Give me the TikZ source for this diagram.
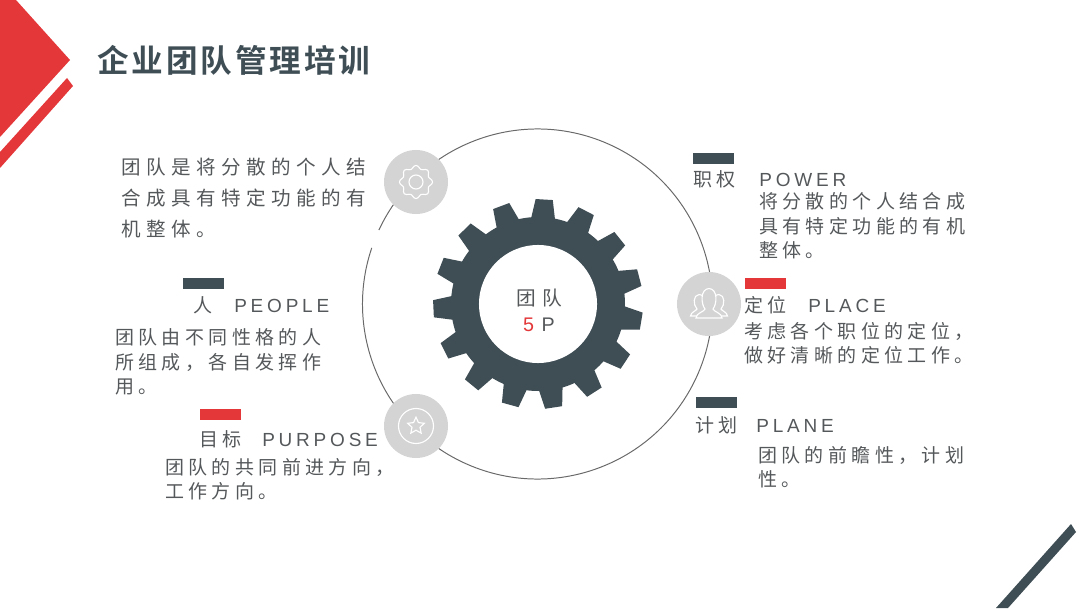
\documentclass[tikz,border=0pt]{standalone}
\usepackage{fontspec}
\usepackage{xcolor}
\usepackage{tikz}
\usetikzlibrary{calc,shapes.geometric}
\setmainfont[LetterSpace=23]{Noto Sans CJK SC}
\newfontfamily\widecjk[LetterSpace=28]{Noto Sans CJK SC}
\newfontfamily\centercjk[LetterSpace=33]{Noto Sans CJK SC}
\newfontfamily\titlecjk[LetterSpace=9,BoldFont={Noto Sans CJK SC Bold}]{Noto Sans CJK SC}
\newfontfamily\latinhead[LetterSpace=20]{Liberation Sans}
\newfontfamily\latinmid[LetterSpace=10]{Liberation Sans}
\definecolor{softslate}{RGB}{63,78,85}
\definecolor{softred}{RGB}{227,55,57}
\definecolor{softgrey}{RGB}{212,212,212}
\definecolor{softtext}{RGB}{85,88,90}
\definecolor{softring}{RGB}{105,105,105}
\newcommand{\headtext}[3]{\makebox[#1][l]{#2}{\latinhead #3}}
\tikzset{
	titletext/.style={anchor=west, inner sep=0pt, text=softslate, font=\fontsize{22.5pt}{26pt}\selectfont\titlecjk\bfseries},
	widetext/.style={anchor=west, inner sep=0pt, align=left, text=softtext, font=\fontsize{13.9pt}{22pt}\selectfont\widecjk},
	bodytext/.style={anchor=west, inner sep=0pt, align=left, text=softtext, font=\fontsize{13.5pt}{17.3pt}\selectfont},
	tagbar/.style={anchor=north west, inner sep=0pt, minimum width=1.025cm, minimum height=0.28cm},
	iconball/.style={circle, fill=softgrey, inner sep=0pt, minimum size=1.6cm},
	iconline/.style={draw=white, line width=0.8pt}
}
\begin{document}
\begin{tikzpicture}[x=0.025cm, y=0.025cm]
	\useasboundingbox (0,0) rectangle (1080,608);
	% corner shapes
	\fill[softred] (16,608) -- (70,548) -- (0,471) -- (0,608) -- cycle;
	\fill[softred] (67,530) -- (73,522) -- (0,440) -- (0,456) -- cycle;
	\fill[softslate] (1071,84) -- (1076,76) -- (1008,0) -- (996,0) -- cycle;
	\node[titletext] (title) at (97,548) {企业团队管理培训};
	% ring with its gap on the left
	\draw[softring, line width=0.7pt] (537.5,304) ++(155:175) arc[start angle=155, end angle=-198.7, radius=175];
	% gear
	\fill[softslate] (538,304) circle (87);
	\foreach \a in {0,...,14} {
		\pgfmathsetmacro{\toothangle}{86.6+24*\a}
		\fill[softslate] ($(538,304)+(\toothangle-8:86)$) -- ($(538,304)+(\toothangle-4.7:105)$) -- ($(538,304)+(\toothangle+4.7:105)$) -- ($(538,304)+(\toothangle+8:86)$) -- cycle;
	}
	\node[circle, fill=white, inner sep=0pt, minimum size=2.95cm] (gearhole) at (538,304) {};
	\node[inner sep=0pt, align=center, text=softtext, font=\fontsize{14pt}{18.5pt}\selectfont\centercjk] (teamlabel) at (539,297.5) {团队\\{\latinmid\textcolor{softred}{5} P}};
	% icon circles
	\node[iconball] (cogball) at (416,426) {};
	\node[iconball] (peopleball) at (709,304) {};
	\node[iconball] (starball) at (416,182) {};
	\begin{scope}[shift={(cogball)}]
		\draw[iconline, smooth cycle, samples=48, domain=0:352.5] plot (\x:{15+1.6*cos(8*\x)});
		\draw[iconline] (0,0) circle (7);
	\end{scope}
	\begin{scope}[shift={(peopleball)}]
		\foreach \s in {1,-1} {
			\draw[iconline, xscale=\s] (12,-12) -- (18.5,-12) .. controls (18,-8) and (13,-7) .. (12,-5) .. controls (16,-1) and (16,9) .. (10,9.5) .. controls (6,9.5) and (5,6) .. (5,4);
		}
		\draw[iconline, fill=softgrey] (-13,-14) -- (13,-14) .. controls (13,-9) and (5,-8) .. (4,-5) .. controls (8,0) and (9,15) .. (0,15.5) .. controls (-9,15) and (-8,0) .. (-4,-5) .. controls (-5,-8) and (-13,-9) .. (-13,-14) -- cycle;
	\end{scope}
	\draw[iconline] (starball) circle (17.5);
	\node[star, star points=5, star point ratio=2.1, draw=white, line width=0.8pt, inner sep=0pt, minimum size=0.44cm] (staricon) at (starball) {};
	% left texts
	\node[widetext] (teamtext) at (121,410) {团队是将分散的个人结\\合成具有特定功能的有\\机整体。};
	\node[tagbar, fill=softslate] (peoplebar) at (183,330) {};
	\node[bodytext] (peoplehead) at (193,303) {\headtext{1.025cm}{人}{PEOPLE}};
	\node[bodytext] (peopletext) at (115,246) {团队由不同性格的人\\所组成，各自发挥作\\用。};
	\node[tagbar, fill=softred] (purposebar) at (200,199) {};
	\node[bodytext] (purposehead) at (199,169) {\headtext{1.575cm}{目标}{PURPOSE}};
	\node[bodytext] (purposetext) at (165,128.5) {团队的共同前进方向，\\工作方向。};
	% right texts
	\node[tagbar, fill=softslate] (powerbar) at (693,455) {};
	\node[bodytext] (powerhead) at (693,429) {\headtext{1.65cm}{职权}{POWER}};
	\node[bodytext] (powertext) at (759,382) {将分散的个人结合成\\具有特定功能的有机\\整体。};
	\node[tagbar, fill=softred] (placebar) at (745,330) {};
	\node[bodytext] (placehead) at (744,303) {\headtext{1.6cm}{定位}{PLACE}};
	\node[bodytext] (placetext) at (744,265) {考虑各个职位的定位，\\做好清晰的定位工作。};
	\node[tagbar, fill=softslate] (planebar) at (696,211) {};
	\node[bodytext] (planehead) at (695,183) {\headtext{1.525cm}{计划}{PLANE}};
	\node[bodytext] (planetext) at (758,141) {团队的前瞻性，计划\\性。};
\end{tikzpicture}
\end{document}
